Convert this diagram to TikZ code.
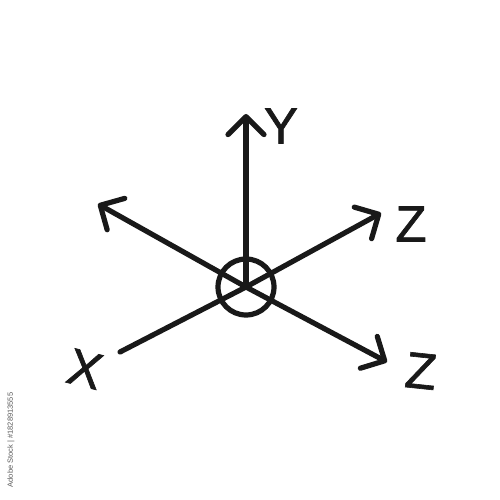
\documentclass[tikz,border=0pt]{standalone}
\usepackage{fontspec}
\setmainfont{Liberation Sans}
\newfontfamily\labfont[FakeBold=1.2]{Liberation Sans}
\usetikzlibrary{arrows.meta}
\begin{document}
\begin{tikzpicture}[x=1pt,y=-1pt,
  axis/.style={line width=5.2pt, line cap=round, line join=round, draw=black!90},
  arr/.style={axis, -{Straight Barb[length=18pt,width=36pt,line cap=round,line join=round]}},
  lab/.style={font=\labfont\fontsize{51}{51}\selectfont, text=black!90, inner sep=0pt}]
\useasboundingbox (0,0) rectangle (500,500);
\fill[white] (0,0) rectangle (500,500);
\coordinate (o) at (246,287);
\coordinate (ty) at (246,114);
\coordinate (tul) at (98,204);
\coordinate (tur) at (381,213);
\coordinate (tlr) at (387,362);
\coordinate (ell) at (120,352);
\draw[axis] (o) circle (28);
\draw[arr] (o) -- (ty);
\draw[arr] (o) -- (tul);
\draw[arr] (o) -- (tur);
\draw[arr] (o) -- (tlr);
\draw[axis] (o) -- (ell);
\node[lab] (ly) at (281,126) {Y};
\node[lab] (lz1) at (411,224) {Z};
\node[lab, rotate=-6] (lz2) at (421,371) {Z};
\node[lab, rotate=-14] (lx) at (85,369) {X};
\node[rotate=90, font=\fontsize{7.5}{8}\selectfont, text=black!65, inner sep=0pt] (wm) at (11,440) {Adobe Stock | \#1828913555};
\end{tikzpicture}
\end{document}
